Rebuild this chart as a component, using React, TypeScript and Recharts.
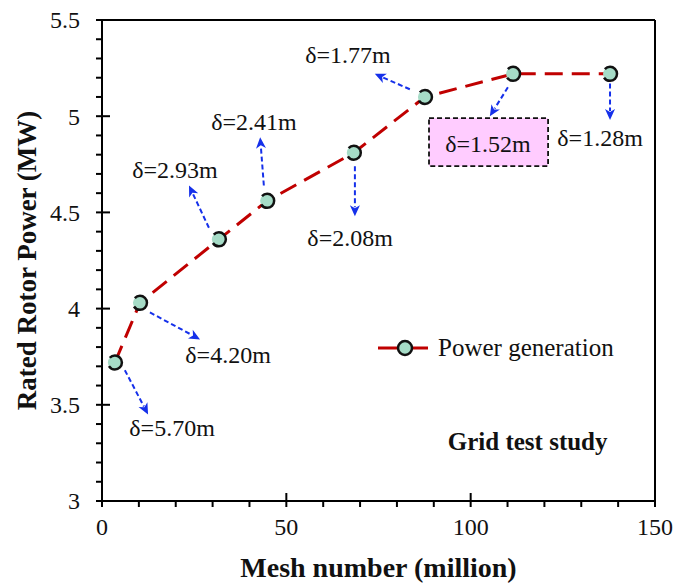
import React from "react";
import {
  LineChart,
  Line,
  XAxis,
  YAxis,
  Legend,
  ReferenceLine,
  ReferenceDot,
  ReferenceArea,
} from "recharts";

// mesh size (million cells) vs rated rotor power
const meshMillion = [3.5, 10.3, 31.7, 44.8, 68.3, 87.6, 111.5, 137.8];
const ratedPowerMW = [3.72, 4.03, 4.36, 4.56, 4.81, 5.1, 5.22, 5.22];

const xMajor = [0, 50, 100, 150];
const xTicks = [0, 10, 20, 30, 40, 50, 60, 70, 80, 90, 100, 110, 120, 130, 140, 150];
const yMajor = [3, 3.5, 4, 4.5, 5, 5.5];
const yTicks = [3, 3.1, 3.2, 3.3, 3.4, 3.5, 3.6, 3.7, 3.8, 3.9, 4, 4.1, 4.2, 4.3, 4.4, 4.5, 4.6, 4.7, 4.8, 4.9, 5, 5.1, 5.2, 5.3, 5.4, 5.5];

// cell size callouts, in data units
const calloutText = ["δ=5.70m", "δ=4.20m", "δ=2.93m", "δ=2.41m", "δ=2.08m", "δ=1.77m", "δ=1.52m", "δ=1.28m"];
const arrowFrom = [[6.2, 3.68], [13.0, 3.98], [29.0, 4.42], [43.9, 4.64], [68.6, 4.74], [83.5, 5.14], [110.1, 5.15], [137.8, 5.17]];
const arrowTo = [[12.5, 3.45], [26.6, 3.84], [23.6, 4.64], [42.9, 4.89], [68.6, 4.48], [74.0, 5.22], [105.2, 5.0], [137.8, 4.98]];
const labelAt = [[19.0, 3.38], [34.2, 3.76], [19.8, 4.72], [41.2, 4.97], [67.3, 4.37], [66.7, 5.32], [104.7, 4.86], [135.1, 4.89]];
const boxX = [88.7, 121];
const boxY = [4.74, 4.99];
const noteAt = [93.8, 3.31];

const data = meshMillion.map((m, i) => ({ mesh: m, power: ratedPowerMW[i] }));

const FONT = '"Liberation Serif", "Times New Roman", serif';
const DOT_FILL = "#a6dcc7";
const LINE_RED = "#c00000";
const ARROW_BLUE = "#1530ea";

function YTick(props: any) {
  const { x, y, payload } = props;
  const major = yMajor.some((v) => Math.abs(v - payload.value) < 1e-6);
  return (
    <g>
      <line x1={x - 6} x2={major ? x + 8 : x} y1={y} y2={y} stroke="#000" strokeWidth={2} />
      {major && (
        <text x={x - 22} y={y} dy="0.35em" textAnchor="end" fontSize={24} fontFamily={FONT} fill="#111">
          {payload.value}
        </text>
      )}
    </g>
  );
}

function XTick(props: any) {
  const { x, y, payload } = props;
  const major = xMajor.includes(payload.value);
  return (
    <g>
      <line x1={x} x2={x} y1={major ? y - 8 : y} y2={y + 6} stroke="#000" strokeWidth={2} />
      {major && (
        <text x={x} y={y + 26} dy="0.35em" textAnchor="middle" fontSize={24} fontFamily={FONT} fill="#111">
          {payload.value}
        </text>
      )}
    </g>
  );
}

function Arrow(props: any) {
  const { x1, y1, x2, y2 } = props;
  const dx = x2 - x1;
  const dy = y2 - y1;
  const len = Math.sqrt(dx * dx + dy * dy) || 1;
  const ux = dx / len;
  const uy = dy / len;
  const head = 11;
  const half = 5;
  const bx = x2 - ux * head;
  const by = y2 - uy * head;
  return (
    <g>
      <line x1={x1} y1={y1} x2={bx + ux * 2} y2={by + uy * 2} stroke={ARROW_BLUE} strokeWidth={2} strokeDasharray="5 3" />
      <polygon
        points={`${x2},${y2} ${bx - uy * half},${by + ux * half} ${bx + ux * 3},${by + uy * 3} ${bx + uy * half},${by - ux * half}`}
        fill={ARROW_BLUE}
      />
    </g>
  );
}

function calloutShape(text: string) {
  return (p: any) => (
    <text x={p.cx} y={p.cy} dy="0.35em" textAnchor="middle" fontSize={24} fontFamily={FONT} fill="#111">
      {text}
    </text>
  );
}

function LegendBox() {
  return (
    <div style={{ display: "flex", alignItems: "center", fontFamily: FONT, fontSize: 25, color: "#111", whiteSpace: "nowrap" }}>
      <svg width={50} height={20} style={{ marginRight: 10 }}>
        <line x1={0} x2={50} y1={10} y2={10} stroke={LINE_RED} strokeWidth={3} />
        <circle cx={27} cy={10} r={7} fill={DOT_FILL} stroke="#111" strokeWidth={2.5} />
      </svg>
      <span>Power generation</span>
    </div>
  );
}

export default function App() {
  return (
    <div style={{ width: 688, height: 583, background: "#fff" }}>
      <style>{`body{margin:0}`}</style>
      <LineChart width={688} height={583} data={data} margin={{ top: 20, right: 33, left: 0, bottom: 0 }}>
        <XAxis
          dataKey="mesh"
          type="number"
          domain={[0, 150]}
          ticks={xTicks}
          interval={0}
          allowDataOverflow
          height={82}
          tickSize={0}
          tickMargin={0}
          tickLine={false}
          tick={<XTick />}
          axisLine={{ stroke: "#000", strokeWidth: 2 }}
          label={{
            value: "Mesh number (million)",
            position: "insideBottom",
            offset: 6,
            style: { fontFamily: FONT, fontSize: 28, fontWeight: "bold", fill: "#111" },
          }}
        />
        <YAxis
          type="number"
          domain={[3, 5.5]}
          ticks={yTicks}
          interval={0}
          allowDataOverflow
          width={102}
          tickSize={0}
          tickMargin={0}
          tickLine={false}
          tick={<YTick />}
          axisLine={{ stroke: "#000", strokeWidth: 2 }}
          label={{
            value: "Rated Rotor Power (MW)",
            angle: -90,
            position: "insideLeft",
            offset: 26,
            style: { textAnchor: "middle", fontFamily: FONT, fontSize: 27, fontWeight: "bold", fill: "#111" },
          }}
        />
        <ReferenceLine y={5.5} stroke="#000" strokeWidth={2} ifOverflow="visible" />
        <ReferenceLine x={150} stroke="#000" strokeWidth={2} ifOverflow="visible" />
        <ReferenceArea
          x1={boxX[0]}
          x2={boxX[1]}
          y1={boxY[0]}
          y2={boxY[1]}
          fill="#ffccff"
          fillOpacity={1}
          stroke="#111"
          strokeWidth={1.8}
          strokeDasharray="5 3"
        />
        {arrowFrom.map((f, i) => (
          <ReferenceLine
            key={"a" + i}
            segment={[
              { x: f[0], y: f[1] },
              { x: arrowTo[i][0], y: arrowTo[i][1] },
            ]}
            ifOverflow="visible"
            shape={<Arrow />}
          />
        ))}
        {labelAt.map((l, i) => (
          <ReferenceDot key={"l" + i} x={l[0]} y={l[1]} r={0} ifOverflow="visible" shape={calloutShape(calloutText[i])} />
        ))}
        <ReferenceDot
          x={noteAt[0]}
          y={noteAt[1]}
          r={0}
          ifOverflow="visible"
          shape={(p: any) => (
            <text x={p.cx} y={p.cy} dy="0.35em" textAnchor="start" fontSize={25} fontWeight="bold" fontFamily={FONT} fill="#111">
              Grid test study
            </text>
          )}
        />
        <Legend
          layout="vertical"
          align="center"
          verticalAlign="middle"
          content={<LegendBox />}
          wrapperStyle={{ left: 378, top: 334, width: 260 }}
        />
        <Line
          type="linear"
          dataKey="power"
          stroke={LINE_RED}
          strokeWidth={3}
          strokeDasharray="18 9"
          dot={{ r: 7, fill: DOT_FILL, stroke: "#111", strokeWidth: 2.5 }}
          isAnimationActive={false}
          legendType="line"
        />
      </LineChart>
    </div>
  );
}
